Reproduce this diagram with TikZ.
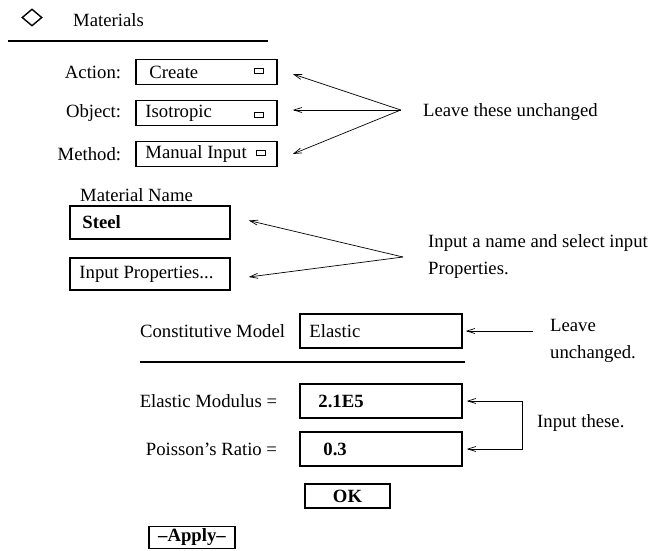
\documentclass[tikz,border=0pt]{standalone}
\usepackage{fontspec}
\setmainfont{Liberation Serif}
\usetikzlibrary{arrows.meta, positioning, shapes.geometric}

\begin{document}
\begin{tikzpicture}[x=1pt, y=-1pt,
    txt/.style={inner sep=0pt, font=\fontsize{18.7}{27}\selectfont},
    field/.style={rectangle, draw, line width=1.5pt, inner sep=0pt, font=\fontsize{18.7}{27}\selectfont},
    pulldown/.style={rectangle, draw, line width=0.8pt, inner sep=0pt, minimum width=9pt, minimum height=5pt},
    rule/.style={line width=1.3pt},
    arrow/.style={-{Straight Barb[length=8pt,width=5pt]}, line width=0.7pt}]
    \useasboundingbox (0,0) rectangle (652,550);
    % Header
    \node[diamond, draw, line width=1.4pt, minimum width=20pt, minimum height=17pt, inner sep=0pt] (matdia) at (32,17.5) {};
    \node[txt, anchor=west] (mattitle) at (73,20) {Materials};
    \draw[rule] (8,41) -- (268,41);

    % Action / Object / Method
    \node[field, minimum width=141pt, minimum height=25pt] (act) at (206.5,72) {};
    \node[field, minimum width=141pt, minimum height=25pt] (obj) at (206.5,113) {};
    \node[field, minimum width=141pt, minimum height=25pt] (meth) at (206.5,154) {};
    \node[txt, anchor=east] (actlbl) at ([xshift=-14pt]act.west) {Action:};
    \node[txt, anchor=east] (objlbl) at ([xshift=-14pt]obj.west) {Object:};
    \node[txt, anchor=east] (methlbl) at ([xshift=-14pt]meth.west) {Method:};
    \node[txt, anchor=west] (acttxt) at ([xshift=14pt]act.west) {Create};
    \node[txt, anchor=west] (objtxt) at ([xshift=10pt]obj.west) {Isotropic};
    \node[txt, anchor=west] (methtxt) at ([xshift=10pt]meth.west) {Manual Input};
    \node[pulldown] (actpd) at ([xshift=-19pt,yshift=1pt]act.east) {};
    \node[pulldown] (objpd) at ([xshift=-19pt,yshift=-2pt]obj.east) {};
    \node[pulldown] (methpd) at ([xshift=-17pt,yshift=1pt]meth.east) {};

    \coordinate (fanA) at ([xshift=123pt,yshift=3pt]obj.east);
    \draw[arrow] (fanA) -- ([xshift=15pt,yshift=-2pt]act.east);
    \draw[arrow] (fanA) -- ([xshift=15pt,yshift=3pt]obj.east);
    \draw[arrow] (fanA) -- ([xshift=15pt]meth.east);
    \node[txt, anchor=west] (leave1) at (423,112) {Leave these unchanged};

    % Material name
    \node[txt, anchor=west] (mname) at (80,195) {Material Name};
    \node[field, minimum width=160pt, minimum height=33pt] (steel) at (150,222.5) {};
    \node[field, minimum width=160pt, minimum height=32pt] (props) at (150,274) {};
    \node[txt, anchor=west] (steeltxt) at ([xshift=13pt]steel.west) {\textbf{Steel}};
    \node[txt, anchor=west] (propstxt) at ([xshift=10pt]props.west) {Input Properties...};

    \coordinate (fanB) at (403,257);
    \draw[arrow] (fanB) -- ([xshift=18pt,yshift=2pt]steel.east);
    \draw[arrow] (fanB) -- ([xshift=18pt,yshift=-3pt]props.east);
    \node[txt, anchor=west, align=left] (note2) at (428,256.5) {Input a name and select input\\Properties.};

    % Constitutive model
    \node[field, minimum width=162pt, minimum height=34pt] (elas) at (381,331) {};
    \node[txt, anchor=east] (cmlbl) at ([xshift=-14pt]elas.west) {Constitutive Model};
    \node[txt, anchor=west] (elastxt) at ([xshift=10pt]elas.west) {Elastic};
    \draw[rule] (140,362) -- (465,362);
    \node[txt, anchor=west, align=left] (leave2) at (550,340.5) {Leave\\unchanged.};
    \draw[arrow] ([xshift=70pt]elas.east) -- ([xshift=3pt]elas.east);

    % Properties
    \node[field, minimum width=162pt, minimum height=34pt] (emod) at (381,401) {};
    \node[field, minimum width=162pt, minimum height=34pt] (pois) at (381,449) {};
    \node[txt, anchor=east] (emodlbl) at ([xshift=-22pt]emod.west) {Elastic Modulus =};
    \node[txt, anchor=east] (poislbl) at ([xshift=-22pt]pois.west) {Poisson's Ratio =};
    \node[txt, anchor=west] (emodtxt) at ([xshift=19pt]emod.west) {\textbf{2.1E5}};
    \node[txt, anchor=west] (poistxt) at ([xshift=24pt]pois.west) {\textbf{0.3}};
    \draw[arrow] ([xshift=60pt]emod.east) -- ([xshift=4pt]emod.east);
    \draw[arrow] ([xshift=60pt]emod.east) |- ([xshift=4pt]pois.east);
    \node[txt, anchor=west] (inthese) at (537,423) {Input these.};

    % Buttons
    \node[field, minimum width=85pt, minimum height=24pt] (ok) at (347.5,496) {\textbf{OK}};
    \node[field, minimum width=86pt, minimum height=22pt] (apply) at (192,537.5) {\textbf{--Apply--}};
\end{tikzpicture}
\end{document}
